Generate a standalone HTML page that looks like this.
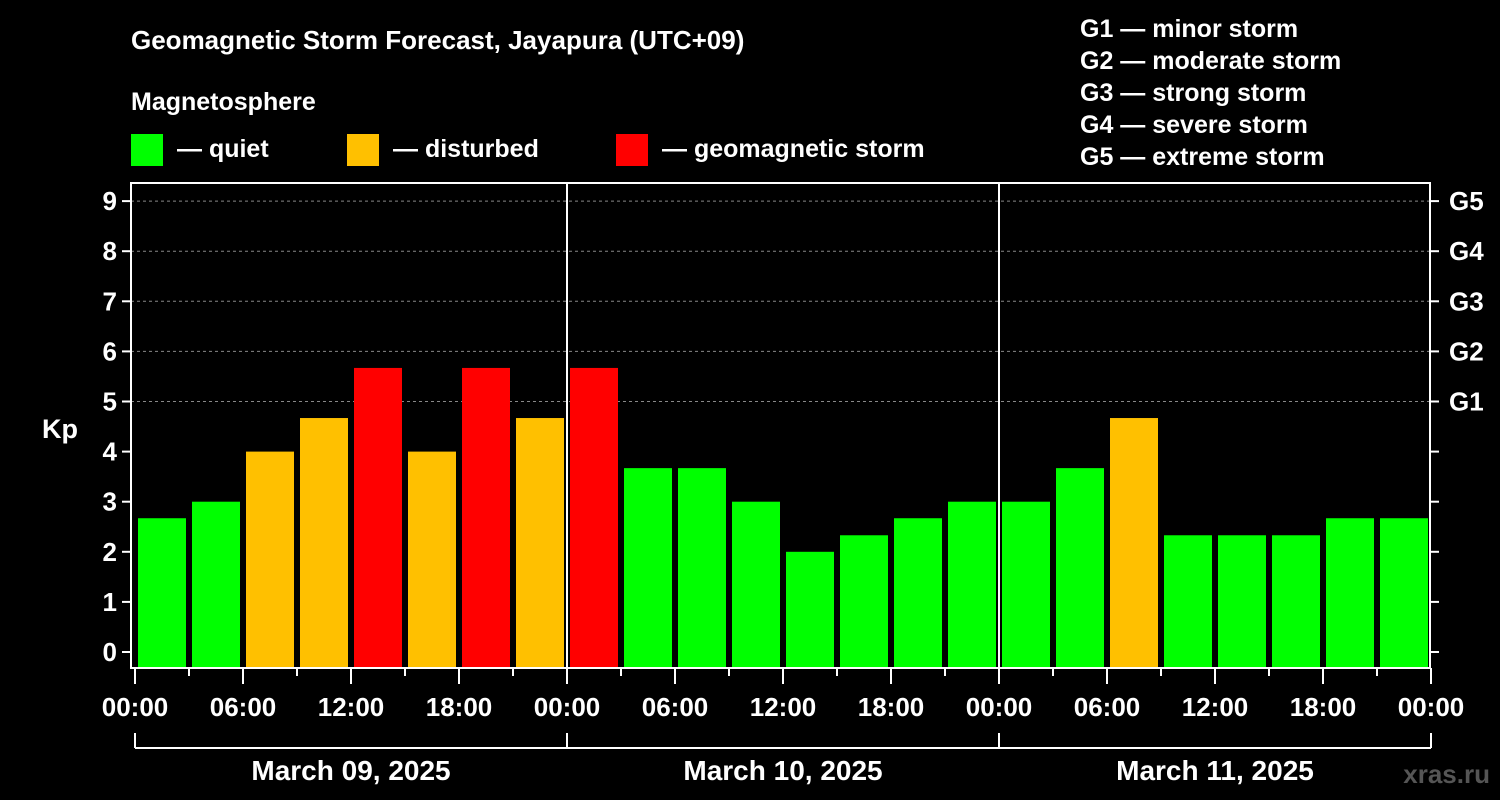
<!DOCTYPE html>
<html><head><meta charset="utf-8"><style>
body{margin:0;background:#000;}
svg{display:block;font-family:"Liberation Sans",Arial,sans-serif;font-weight:bold;}
</style></head><body>
<svg id="chart" width="1500" height="800" viewBox="0 0 1500 800">
<rect width="1500" height="800" fill="#000"/>
<text x="131" y="49" fill="#fff" font-size="26">Geomagnetic Storm Forecast, Jayapura (UTC+09)</text>
<text x="131" y="110" fill="#fff" font-size="25">Magnetosphere</text>
<g><rect x="131" y="134" width="32" height="32" fill="#00ff00"/><text x="177" y="157" fill="#fff" font-size="25">— quiet</text></g>
<g><rect x="347" y="134" width="32" height="32" fill="#ffc000"/><text x="393" y="157" fill="#fff" font-size="25">— disturbed</text></g>
<g><rect x="616" y="134" width="32" height="32" fill="#ff0000"/><text x="662" y="157" fill="#fff" font-size="25">— geomagnetic storm</text></g>
<g fill="#fff" font-size="25">
<text x="1080" y="37">G1 — minor storm</text>
<text x="1080" y="69">G2 — moderate storm</text>
<text x="1080" y="101">G3 — strong storm</text>
<text x="1080" y="133">G4 — severe storm</text>
<text x="1080" y="165">G5 — extreme storm</text>
</g>
<text x="42" y="438" fill="#fff" font-size="27">Kp</text>
<text x="1490" y="783" fill="#555" font-size="26" text-anchor="end">xras.ru</text>
<g id="grid"></g><g id="bars"></g><g id="axes"></g>
</svg>
<script>
const kpValues=[2.67,3,4,4.67,5.67,4,5.67,4.67,5.67,3.67,3.67,3,2,2.33,2.67,3,3,3.67,4.67,2.33,2.33,2.33,2.67,2.67];
const yTicks=[0,1,2,3,4,5,6,7,8,9];
const gLabels=["G1","G2","G3","G4","G5"];
const xLabels=["00:00","06:00","12:00","18:00","00:00","06:00","12:00","18:00","00:00","06:00","12:00","18:00","00:00"];
const dayLabels=["March 09, 2025","March 10, 2025","March 11, 2025"];
const NS="http://www.w3.org/2000/svg";
const L=131,R=1430,T=183,B=668,X0=135,slot=54;
const y=v=>652-50.1*v;
const x=i=>X0+slot*i;
function mk(tag,attrs,parent,txt){const e=document.createElementNS(NS,tag);for(const k in attrs)e.setAttribute(k,attrs[k]);if(txt!==undefined)e.textContent=txt;parent.appendChild(e);return e;}
const grid=document.getElementById('grid'),bars=document.getElementById('bars'),axes=document.getElementById('axes');
for(let v=5;v<=9;v++){const l=mk('line',{x1:L,x2:R,y1:y(v),y2:y(v),stroke:'#888','stroke-dasharray':'3,3','stroke-width':1},grid);

}
kpValues.forEach((v,i)=>{const c=v>=5?'#ff0000':(v>=4?'#ffc000':'#00ff00');
const r=mk('rect',{x:x(i)+3,y:y(v),width:48,height:B-y(v),fill:c},bars);

});
mk('rect',{x:L,y:T,width:R-L,height:B-T,fill:'none',stroke:'#fff','stroke-width':2},axes);
[1,2].forEach(d=>{const l=mk('line',{x1:x(d*8),x2:x(d*8),y1:T,y2:B,stroke:'#fff','stroke-width':2},axes);

});
yTicks.forEach(v=>{mk('line',{x1:L-9,x2:L,y1:y(v),y2:y(v),stroke:'#fff','stroke-width':2},axes);
mk('line',{x1:R,x2:R+9,y1:y(v),y2:y(v),stroke:'#fff','stroke-width':2},axes);
const t=mk('text',{x:L-14,y:y(v)+9,fill:'#fff','font-size':26,'text-anchor':'end'},axes,String(v));

});
gLabels.forEach((g,i)=>{const t=mk('text',{x:R+19,y:y(5+i)+9,fill:'#fff','font-size':26},axes,g);

});
for(let i=0;i<=24;i++){const major=i%2===0;mk('line',{x1:x(i),x2:x(i),y1:B,y2:B+(major?16:8),stroke:'#fff','stroke-width':2},axes);}
xLabels.forEach((s,i)=>{const t=mk('text',{x:x(i*2),y:716,fill:'#fff','font-size':26,'text-anchor':'middle'},axes,s);

});
mk('line',{x1:x(0),x2:x(24),y1:748,y2:748,stroke:'#fff','stroke-width':2},axes);
for(let d=0;d<=3;d++)mk('line',{x1:x(d*8),x2:x(d*8),y1:733,y2:748,stroke:'#fff','stroke-width':2},axes);
dayLabels.forEach((s,i)=>{const t=mk('text',{x:x(i*8+4),y:780,fill:'#fff','font-size':28,'text-anchor':'middle'},axes,s);

});
</script>
</body></html>
